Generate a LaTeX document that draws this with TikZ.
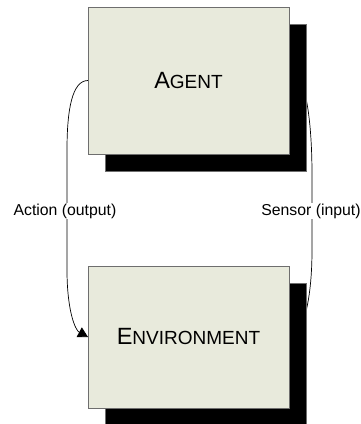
\documentclass[tikz,border=0pt]{standalone}
\usepackage{fontspec}
\setmainfont{Liberation Sans}
\usetikzlibrary{arrows.meta,shadows,backgrounds}

\definecolor{boxfill}{RGB}{232,234,220}
\definecolor{boxline}{RGB}{110,110,110}

% Large initial capital followed by smaller capitals
\newcommand{\capword}[2]{{\fontsize{23.5}{26}\selectfont #1}{\fontsize{19}{22}\selectfont #2}}

\begin{document}
\begin{tikzpicture}[x=1pt,y=-1pt,
  block/.style={draw=boxline, line width=0.8pt, fill=boxfill,
    minimum width=201pt, inner sep=0pt, outer sep=0pt,
    general shadow={shadow xshift=17pt, shadow yshift=-17pt,
      fill=black, draw=boxline, line width=0.8pt}},
  link/.style={line width=0.7pt, black},
  linklabel/.style={fill=white, inner sep=1pt, font=\fontsize{15.8}{18}\selectfont}]

\useasboundingbox (0,0) rectangle (361,424);

% the two blocks with their offset shadows
\node[block, minimum height=147pt] (agent) at (188.5,80.5) {\capword{A}{GENT}};
\node[block, minimum height=142pt] (env) at (188.5,337) {\capword{E}{NVIRONMENT}};

% connectors run underneath the blocks and their shadows
\begin{pgfonlayer}{background}
  % agent -> environment
  \coordinate (actA) at (67,150);
  \coordinate (actB) at (67,270);
  \draw[link, -{Triangle[length=10pt,width=11pt]}]
    (agent.west) .. controls (72,80.5) and (67,110) .. (actA)
    -- (actB) .. controls (67,310) and (75,330) .. (env.west);
  % environment -> agent
  \coordinate (senA) at (312,250);
  \coordinate (senB) at (312,175);
  \draw[link, -{Triangle[length=10pt,width=11pt]}]
    (env.east) .. controls (303,337) and (312,300) .. (senA)
    -- (senB) .. controls (312,110) and (303,80.5) .. (agent.east);
\end{pgfonlayer}

% connector labels
\node[linklabel] (actlabel) at (65,211) {Action (output)};
\node[linklabel] (senlabel) at (311,211) {Sensor (input)};

\end{tikzpicture}
\end{document}
